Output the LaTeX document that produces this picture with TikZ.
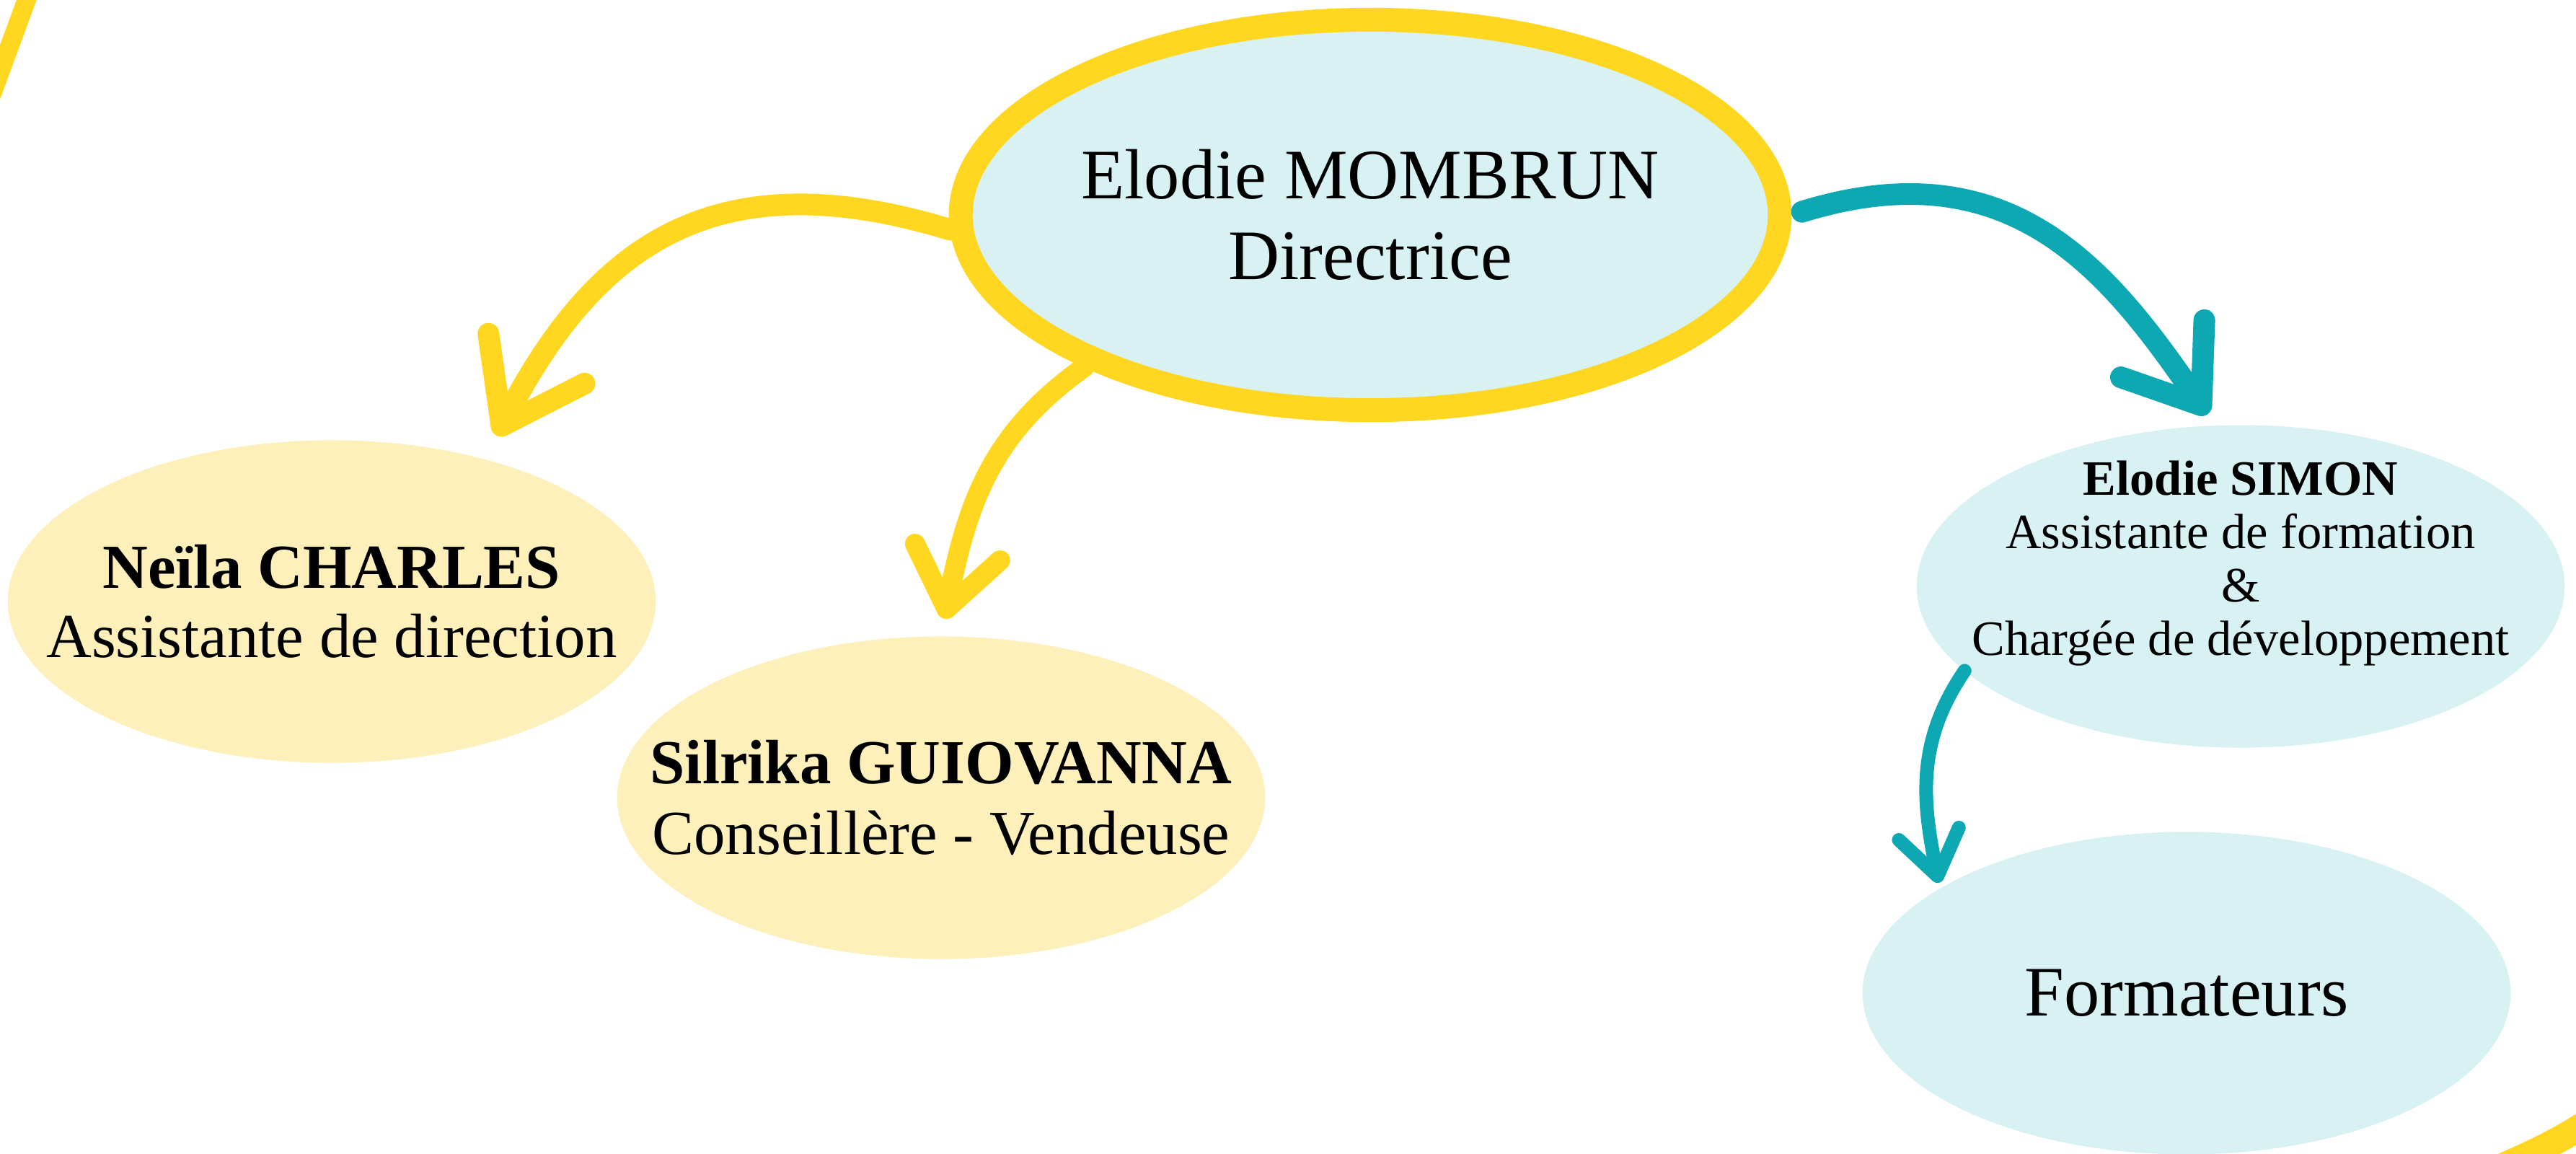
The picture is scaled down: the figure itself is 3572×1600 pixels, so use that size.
\documentclass[tikz,border=0pt]{standalone}
\usepackage{fontspec}
\setmainfont{Liberation Serif}
\usetikzlibrary{arrows.meta,shapes.geometric}
\definecolor{brushyellow}{RGB}{255,214,32}
\definecolor{brushteal}{RGB}{14,168,179}
\definecolor{paleblue}{RGB}{216,241,243}
\definecolor{paleyellow}{RGB}{253,240,186}

\begin{document}
\begin{tikzpicture}[
   x=0.01cm,y=-0.01cm,
   boss/.style={ellipse,draw=brushyellow,line width=0.33cm,fill=paleblue,inner sep=0pt,minimum width=11.35cm,minimum height=5.41cm},
   bubble/.style={ellipse,fill=#1,inner sep=0pt,outer sep=0pt,minimum width=8.98cm,minimum height=4.47cm},
   txt/.style={align=center,text=black},
   stroke/.style={line width=#1,line cap=round},
   barbtip/.style 2 args={-{Straight Barb[length=#1,width=#2,round]}}]
\path[use as bounding box] (0,0) rectangle (3572,1600);
\clip (0,0) rectangle (3572,1600);
% brush marks at the corners
\draw[brushyellow,stroke=0.26cm] (46,-25) -- (-22,160);
\draw[brushyellow,stroke=0.37cm] (3420,1640) .. controls (3480,1612) and (3540,1590) .. (3600,1548);
% people
\node[boss,label={[txt,font=\fontsize{28}{32}\selectfont]center:Elodie MOMBRUN\\Directrice}] (main) at (1900,298) {};
\node[bubble=paleyellow,label={[txt,font=\fontsize{24.7}{27.3}\selectfont]center:\textbf{Neïla CHARLES}\\Assistante de direction}] (neila) at (460,834) {};
\node[bubble=paleyellow,label={[txt,font=\fontsize{24.7}{27.6}\selectfont]center:\textbf{Silrika GUIOVANNA}\\Conseillère - Vendeuse}] (silrika) at (1305,1106) {};
\node[bubble=paleblue,label={[txt,yshift=9pt,font=\fontsize{19.5}{21}\selectfont]center:\textbf{Elodie SIMON}\\Assistante de formation\\\&\\Chargée de développement}] (simon) at (3107,813) {};
\node[bubble=paleblue,label={[txt,font=\fontsize{28}{32}\selectfont]center:Formateurs}] (formateurs) at (3032,1377) {};
% arrows
\draw[brushyellow,stroke=0.3cm,barbtip={1.05cm}{1.5cm},shorten >=0.37cm] (main.182) .. controls +(-328,-100) and +(153,-295) .. (neila.43);
\draw[brushyellow,stroke=0.28cm,barbtip={0.8cm}{1.2cm},shorten >=0.25cm] (main.208) .. controls +(-126,90) and +(37,-190) .. (silrika.north);
\draw[brushteal,stroke=0.3cm,barbtip={0.95cm}{1.4cm},shorten <=0.15cm,shorten >=0.19cm] (main.0) .. controls +(302,-93) and +(-150,-219) .. (simon.99);
\draw[brushteal,stroke=0.19cm,barbtip={0.6cm}{0.85cm},shorten >=0.08cm] (simon.197) .. controls +(-67,98) and +(-25,-122) .. (formateurs.157);
\end{tikzpicture}
\end{document}
